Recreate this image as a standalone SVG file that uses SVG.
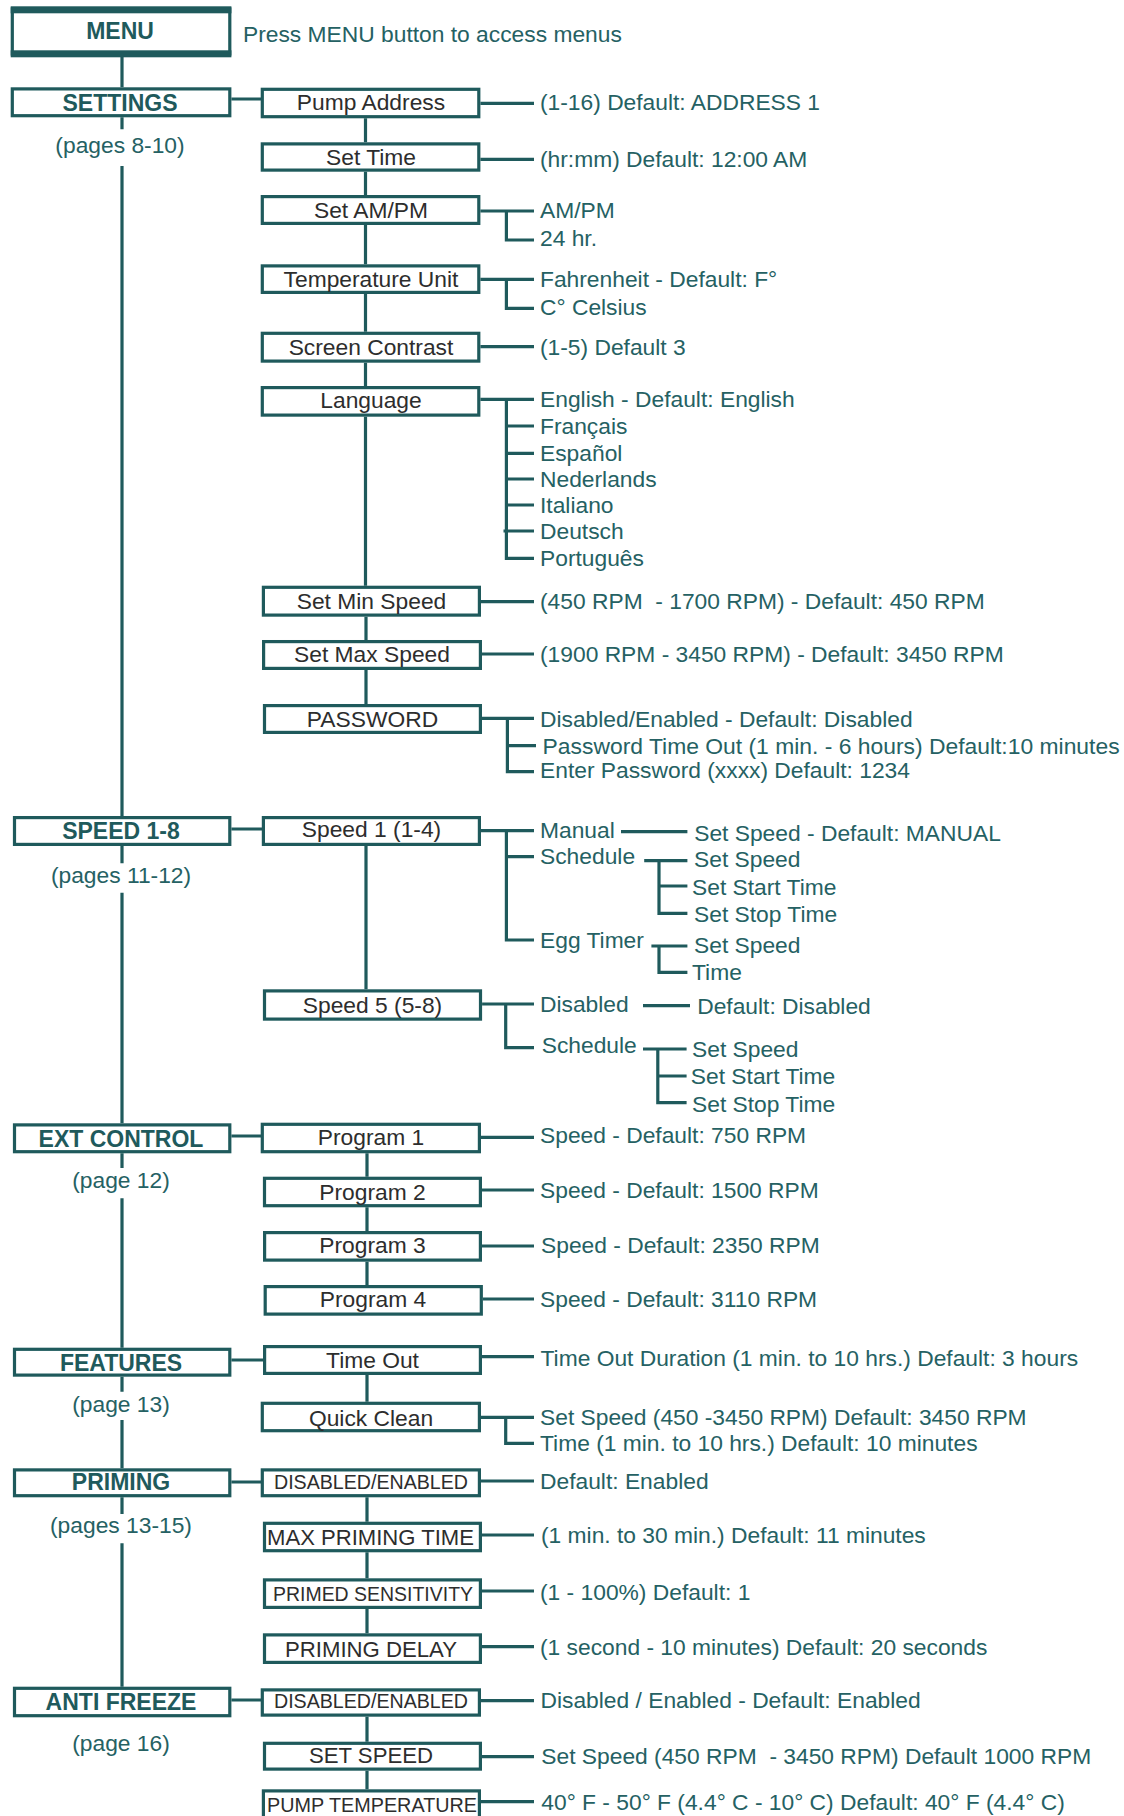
<svg xmlns="http://www.w3.org/2000/svg" width="1124" height="1816" viewBox="0 0 1124 1816">
<style>
.box{fill:#fff;stroke:#1f5a5c;stroke-width:3.2}
.ln{fill:none;stroke:#1f5a5c;stroke-width:3.2;stroke-linejoin:miter}
.hdr{font-family:"Liberation Sans",Arial,sans-serif;font-weight:bold;font-size:23px;fill:#1f5a5c;text-anchor:middle}
.pg{font-family:"Liberation Sans",Arial,sans-serif;font-size:22.8px;fill:#256163;text-anchor:middle}
.lbl{font-family:"Liberation Sans",Arial,sans-serif;font-size:22.8px;fill:#2d2d2d;text-anchor:middle}
.cap{font-family:"Liberation Sans",Arial,sans-serif;fill:#2d2d2d;text-anchor:middle}
.ann{font-family:"Liberation Sans",Arial,sans-serif;font-size:22.8px;fill:#256163}
</style>
<rect width="1124" height="1816" fill="#fff"/>

<g id="connectors">
<path class="ln" d="M122 57V87.3M122 117.3V129.3M122 166V816M122 846V863.3M122 892.7V1123.3M122 1153.3V1168M122 1198.3V1347.7M122 1376.7V1391.7M122 1420V1468.3M122 1497.3V1514M122 1543.3V1686.7"/>
<path class="ln" d="M231.4 99H261M231.4 829H262M231.4 1136H261M231.4 1360H263M231.4 1482H261M231.4 1700H261"/>
<path class="ln" d="M365.5 118.3V142.3M365.5 171.7V195M365.5 225V264.3M365.5 294V331.7M365.5 362.7V386M365.5 416.7V585.7M366 616.7V640M366 670V704M366 846V989.3M367 1153.3V1176.7M367 1207.3V1231M367 1261.7V1285M367 1375V1401.7M367 1497.3V1521.7M367 1552.3V1578.3M367 1609V1633.3M367 1716.7V1741.7M367 1770.7V1789.3"/>
<path class="ln" d="M480.4 103.3H534M480.4 159.3H534M480.4 211H534M506.4 211V240H534M480.4 279.3H534M506.4 279.3V308.3H534M480.4 346.7H534"/>
<path class="ln" d="M480.4 399.3H534M506.4 399.3V558.3H534M506.4 426H534M506.4 453.3H534M506.4 479H534M506.4 505H534M503.5 531H534"/>
<path class="ln" d="M481 601.7H534M482 654H534M482 718.3H534M507.4 718.3V771.7H534M507.4 745.7H536"/>
<path class="ln" d="M481 830.7H534M506.4 830.7V940H534M506.4 856.7H534M621 831.7H687.4M644.2 860.7H687.4M659 860.7V913.3H687.4M659 886H687.4M651.4 946H687.4M659 946V972.3H687.4"/>
<path class="ln" d="M482.1 1004H534M505.7 1004V1047.7H534M643 1005.7H690M643 1049H686.6M657.8 1049V1102.7H686.6M657.8 1076H686.6"/>
<path class="ln" d="M481 1137.3H534M482 1190H534M482 1246H534M482.9 1299H534M482 1356.7H534M481 1417.3H534M505.7 1417.3V1443.3H534"/>
<path class="ln" d="M481 1481H534M482 1535H534M482 1591H534M482 1646.7H534M481 1700.7H534M482 1756.7H534M481 1801.7H534"/>
</g>

<g id="menu">
<rect class="box" x="12.3" y="9" width="217.5" height="45"/>
<rect x="10.7" y="6.3" width="220.7" height="7" fill="#1f5a5c"/>
<rect x="10.7" y="50.3" width="220.7" height="7" fill="#1f5a5c"/>
<text class="hdr" x="120" y="39.3">MENU</text>
</g>
<g id="menu-note"><text class="ann" x="243" y="42.3">Press MENU button to access menus</text></g>

<g id="settings">
<rect class="box" x="12.3" y="88.9" width="217.5" height="26.8"/>
<text class="hdr" x="120" y="110.7">SETTINGS</text>
<text class="pg" x="120" y="153.3">(pages 8-10)</text>
</g>
<g id="pump-address"><rect class="box" x="262.3" y="89.3" width="216.5" height="27.4"/><text class="lbl" x="371" y="110">Pump Address</text></g>
<g id="set-time"><rect class="box" x="262.3" y="143.9" width="216.5" height="26.2"/><text class="lbl" x="371" y="165">Set Time</text></g>
<g id="set-ampm"><rect class="box" x="262.3" y="196.6" width="216.5" height="26.8"/><text class="lbl" x="371" y="218.3">Set AM/PM</text></g>
<g id="temperature-unit"><rect class="box" x="262.3" y="265.9" width="216.5" height="26.5"/><text class="lbl" x="371" y="286.7">Temperature Unit</text></g>
<g id="screen-contrast"><rect class="box" x="262.3" y="333.3" width="216.5" height="27.8"/><text class="lbl" x="371" y="355">Screen Contrast</text></g>
<g id="language"><rect class="box" x="262.3" y="387.6" width="216.5" height="27.5"/><text class="lbl" x="371" y="408.3">Language</text></g>
<g id="set-min-speed"><rect class="box" x="263.4" y="587.3" width="216" height="27.8"/><text class="lbl" x="371.5" y="608.7">Set Min Speed</text></g>
<g id="set-max-speed"><rect class="box" x="263.6" y="641.6" width="216.8" height="26.8"/><text class="lbl" x="372" y="661.7">Set Max Speed</text></g>
<g id="password"><rect class="box" x="264.5" y="705.6" width="215.9" height="26.8"/><text class="lbl" x="372.5" y="727.3">PASSWORD</text></g>

<g id="settings-notes" class="ann">
<text class="ann" x="540" y="110">(1-16) Default: ADDRESS 1</text>
<text class="ann" x="540" y="166.7">(hr:mm) Default: 12:00 AM</text>
<text class="ann" x="540" y="218.3">AM/PM</text>
<text class="ann" x="540" y="246">24 hr.</text>
<text class="ann" x="540" y="286.7">Fahrenheit - Default: F°</text>
<text class="ann" x="540" y="315">C° Celsius</text>
<text class="ann" x="540" y="355">(1-5) Default 3</text>
<text class="ann" x="540" y="407">English - Default: English</text>
<text class="ann" x="540" y="434">Français</text>
<text class="ann" x="540" y="461">Español</text>
<text class="ann" x="540" y="487">Nederlands</text>
<text class="ann" x="540" y="513">Italiano</text>
<text class="ann" x="540" y="539">Deutsch</text>
<text class="ann" x="540" y="566">Português</text>
<text class="ann" x="540" y="608.5">(450 RPM&#160; - 1700 RPM) - Default: 450 RPM</text>
<text class="ann" x="540" y="661.7">(1900 RPM - 3450 RPM) - Default: 3450 RPM</text>
<text class="ann" x="540" y="726.7">Disabled/Enabled - Default: Disabled</text>
<text class="ann" x="542.6" y="754" textLength="577" lengthAdjust="spacingAndGlyphs">Password Time Out (1 min. - 6 hours) Default:10 minutes</text>
<text class="ann" x="540" y="778.3">Enter Password (xxxx) Default: 1234</text>
</g>

<g id="speed-1-8">
<rect class="box" x="14.5" y="817.6" width="215.3" height="26.8"/>
<text class="hdr" x="121" y="839.3">SPEED 1-8</text>
<text class="pg" x="121" y="883.3">(pages 11-12)</text>
</g>
<g id="speed-1"><rect class="box" x="263.4" y="817.6" width="216" height="26.8"/><text class="lbl" x="371.5" y="837">Speed 1 (1-4)</text></g>
<g id="speed-5"><rect class="box" x="264.5" y="990.9" width="216" height="28.2"/><text class="lbl" x="372.5" y="1013">Speed 5 (5-8)</text></g>
<g id="speed-notes">
<text class="ann" x="540" y="837.5">Manual</text>
<text class="ann" x="694.2" y="840.7">Set Speed - Default: MANUAL</text>
<text class="ann" x="540" y="864">Schedule</text>
<text class="ann" x="694" y="866.7">Set Speed</text>
<text class="ann" x="692" y="894.5">Set Start Time</text>
<text class="ann" x="694" y="921.7">Set Stop Time</text>
<text class="ann" x="540" y="948.3">Egg Timer</text>
<text class="ann" x="694" y="953.3">Set Speed</text>
<text class="ann" x="692" y="980">Time</text>
<text class="ann" x="540" y="1011.7">Disabled</text>
<text class="ann" x="697.2" y="1014.3">Default: Disabled</text>
<text class="ann" x="541.7" y="1053.3">Schedule</text>
<text class="ann" x="692" y="1056.7">Set Speed</text>
<text class="ann" x="690.8" y="1084.3">Set Start Time</text>
<text class="ann" x="692" y="1111.7">Set Stop Time</text>
</g>

<g id="ext-control">
<rect class="box" x="14.5" y="1124.9" width="215.3" height="26.8"/>
<text class="hdr" x="121" y="1146.7">EXT CONTROL</text>
<text class="pg" x="121" y="1188.3">(page 12)</text>
</g>
<g id="program-1"><rect class="box" x="262.3" y="1124.3" width="217.1" height="27.4"/><text class="lbl" x="371" y="1145">Program 1</text></g>
<g id="program-2"><rect class="box" x="264.5" y="1178.3" width="215.9" height="27.4"/><text class="lbl" x="372.5" y="1199.5">Program 2</text></g>
<g id="program-3"><rect class="box" x="264.6" y="1232.6" width="215.8" height="27.5"/><text class="lbl" x="372.5" y="1253.3">Program 3</text></g>
<g id="program-4"><rect class="box" x="265.2" y="1286.6" width="216.1" height="27.5"/><text class="lbl" x="373" y="1307.3">Program 4</text></g>
<g id="ext-notes">
<text class="ann" x="540" y="1143.3">Speed - Default: 750 RPM</text>
<text class="ann" x="540" y="1198">Speed - Default: 1500 RPM</text>
<text class="ann" x="541" y="1252.7">Speed - Default: 2350 RPM</text>
<text class="ann" x="540" y="1307.3">Speed - Default: 3110 RPM</text>
</g>

<g id="features">
<rect class="box" x="14.5" y="1349.3" width="215.3" height="25.8"/>
<text class="hdr" x="121" y="1370.7">FEATURES</text>
<text class="pg" x="121" y="1411.7">(page 13)</text>
</g>
<g id="time-out"><rect class="box" x="264.6" y="1346.6" width="215.8" height="26.8"/><text class="lbl" x="372.5" y="1368.3">Time Out</text></g>
<g id="quick-clean"><rect class="box" x="262.3" y="1403.3" width="217.1" height="27.4"/><text class="lbl" x="371" y="1426">Quick Clean</text></g>
<g id="features-notes">
<text class="ann" x="540.5" y="1365.5">Time Out Duration (1 min. to 10 hrs.) Default: 3 hours</text>
<text class="ann" x="540" y="1424.5">Set Speed (450 -3450 RPM) Default: 3450 RPM</text>
<text class="ann" x="540" y="1450.7">Time (1 min. to 10 hrs.) Default: 10 minutes</text>
</g>

<g id="priming">
<rect class="box" x="14.5" y="1469.9" width="215.3" height="25.8"/>
<text class="hdr" x="121" y="1490">PRIMING</text>
<text class="pg" x="121" y="1533.3">(pages 13-15)</text>
</g>
<g id="priming-enable"><rect class="box" x="262.3" y="1469.9" width="217.1" height="25.8"/><text class="cap" font-size="19.5" x="371" y="1489.3" textLength="194" lengthAdjust="spacingAndGlyphs">DISABLED/ENABLED</text></g>
<g id="max-priming-time"><rect class="box" x="264.5" y="1523.3" width="215.9" height="27.4"/><text class="cap" font-size="22.5" x="370.5" y="1545" textLength="207" lengthAdjust="spacingAndGlyphs">MAX PRIMING TIME</text></g>
<g id="primed-sensitivity"><rect class="box" x="264.5" y="1579.9" width="215.9" height="27.5"/><text class="cap" font-size="20.3" x="373" y="1600.7" textLength="200" lengthAdjust="spacingAndGlyphs">PRIMED SENSITIVITY</text></g>
<g id="priming-delay"><rect class="box" x="264.5" y="1634.9" width="215.9" height="27.5"/><text class="cap" font-size="22.3" x="371" y="1656.7" textLength="172" lengthAdjust="spacingAndGlyphs">PRIMING DELAY</text></g>
<g id="priming-notes">
<text class="ann" x="540" y="1489">Default: Enabled</text>
<text class="ann" x="541" y="1543.3">(1 min. to 30 min.) Default: 11 minutes</text>
<text class="ann" x="540" y="1599.5">(1 - 100%) Default: 1</text>
<text class="ann" x="540" y="1655">(1 second - 10 minutes) Default: 20 seconds</text>
</g>

<g id="anti-freeze">
<rect class="box" x="14.5" y="1688.3" width="215.3" height="27.4"/>
<text class="hdr" x="121" y="1710">ANTI FREEZE</text>
<text class="pg" x="121" y="1750.7">(page 16)</text>
</g>
<g id="freeze-enable"><rect class="box" x="262.3" y="1689.9" width="217.1" height="25.2"/><text class="cap" font-size="19.5" x="371" y="1708.3" textLength="194" lengthAdjust="spacingAndGlyphs">DISABLED/ENABLED</text></g>
<g id="set-speed"><rect class="box" x="264.5" y="1743.3" width="215.9" height="25.8"/><text class="cap" font-size="22.5" x="371" y="1763.3" textLength="124" lengthAdjust="spacingAndGlyphs">SET SPEED</text></g>
<g id="pump-temperature"><rect class="box" x="263.4" y="1790.9" width="216" height="40"/><text class="cap" font-size="20.5" x="372" y="1812" textLength="210" lengthAdjust="spacingAndGlyphs">PUMP TEMPERATURE</text></g>
<g id="freeze-notes">
<text class="ann" x="540.5" y="1708">Disabled / Enabled - Default: Enabled</text>
<text class="ann" x="541.3" y="1764">Set Speed (450 RPM&#160; - 3450 RPM) Default 1000 RPM</text>
<text class="ann" x="541.3" y="1810">40° F - 50° F (4.4° C - 10° C) Default: 40° F (4.4° C)</text>
</g>
</svg>
